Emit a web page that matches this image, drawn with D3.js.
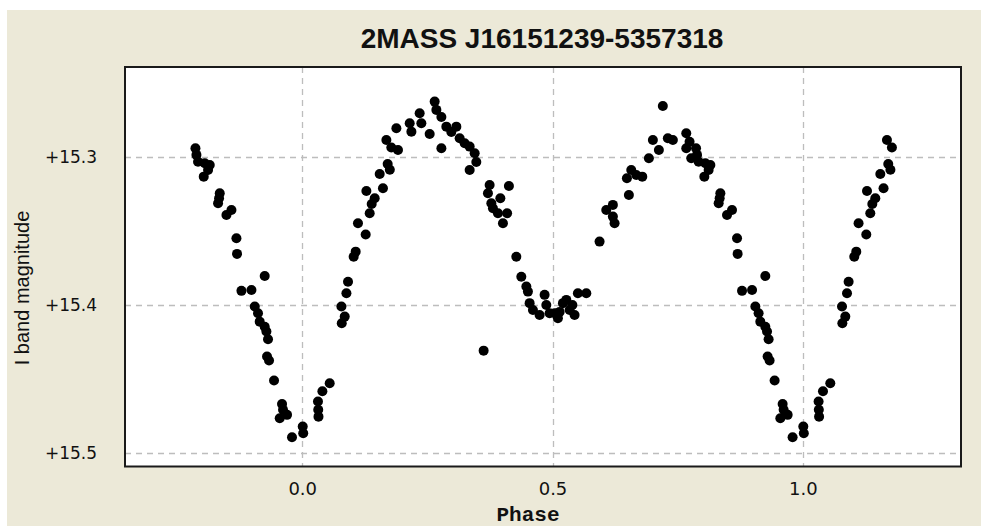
<!DOCTYPE html>
<html>
<head>
<meta charset="utf-8">
<script src="https://cdn.jsdelivr.net/npm/d3@7"></script>
<style>
  html, body { margin: 0; padding: 0; background: #ffffff; }
  svg { display: block; }
</style>
</head>
<body>
<div id="chart"></div>
<script>
// ---- data (phase-folded light curve, base phase in [0,1)) ----
const title = "2MASS J16151239-5357318";
const xLabel = "Phase";
const yLabel = "I band magnitude";
const xTicks = [0.0, 0.5, 1.0];
const xTickLabels = ["0.0", "0.5", "1.0"];
const yTicks = [15.3, 15.4, 15.5];
const yTickLabels = ["+15.3", "+15.4", "+15.5"];
const phaseWindow = [-0.215, 1.183];   // phases shown (data repeated by one cycle)

const phase = [
  0.001, 0.002, 0.0315, 0.032, 0.0325, 0.0403, 0.0549, 0.0783, 0.0849, 0.079,
  0.0883, 0.0915, 0.1028, 0.1068, 0.1114, 0.1268, 0.1282, 0.1348, 0.1388, 0.1448,
  0.1613, 0.1548, 0.1707, 0.175, 0.1681, 0.178, 0.1913, 0.1881,
  0.2147, 0.2181, 0.2346, 0.238, 0.2546, 0.2646, 0.268, 0.278, 0.278, 0.2879,
  0.2979, 0.3079, 0.3145, 0.3245, 0.3345, 0.3445, 0.3478, 0.3345, 0.3744, 0.371,
  0.4129, 0.3958, 0.381, 0.391, 0.4093, 0.401, 0.3778,
  0.4277, 0.4377, 0.4477, 0.4509, 0.4543, 0.4609, 0.4742, 0.4842, 0.4876, 0.4942,
  0.5042, 0.5108, 0.5208, 0.5276, 0.5342, 0.5441, 0.5507, 0.5675, 0.3624, 0.594,
  0.5142, 0.5397,
  0.6074, 0.6206, 0.6206, 0.624, 0.6486, 0.6526, 0.6573, 0.6673, 0.6793, 0.6925,
  0.7005, 0.7125, 0.7204, 0.7304, 0.7404, 0.7672, 0.7672, 0.7738, 0.7772,
  0.7867, 0.7887, 0.7919, 0.8053, 0.8153, 0.8119, 0.8033, 0.8353, 0.8339, 0.8319,
  0.8486, 0.8586, 0.8686, 0.8698, 0.9251, 0.8786, 0.8986, 0.9052, 0.9117, 0.9151,
  0.9251, 0.9285, 0.9317, 0.9297, 0.9337, 0.9437, 0.9597, 0.9617, 0.9551, 0.9697,
  0.9796
];
const magnitude = [
  15.4820, 15.4865, 15.4651, 15.4707, 15.4753, 15.4582, 15.4527, 15.4009, 15.4077, 15.4122,
  15.3919, 15.3841, 15.3672, 15.3638, 15.3446, 15.3522, 15.3228, 15.3378, 15.3316, 15.3277,
  15.3209, 15.3113, 15.3045, 15.3085, 15.2883, 15.2934, 15.2951, 15.2804,
  15.2770, 15.2827, 15.2703, 15.2770, 15.2843, 15.2624, 15.2680, 15.2728, 15.2939, 15.2793,
  15.2829, 15.2793, 15.2872, 15.2905, 15.2928, 15.2973, 15.3032, 15.3086, 15.3187, 15.3243,
  15.3194, 15.3277, 15.3345, 15.3378, 15.3378, 15.3446, 15.3311,
  15.3672, 15.3807, 15.3874, 15.3908, 15.3986, 15.4032, 15.4066, 15.3930, 15.3998, 15.4054,
  15.4054, 15.4088, 15.3986, 15.3964, 15.4032, 15.4066, 15.3919, 15.3919, 15.4307, 15.3570,
  15.4045, 15.3998,
  15.3356, 15.3322, 15.3401, 15.3446, 15.3142, 15.3255, 15.3086, 15.3120, 15.3131, 15.3007,
  15.2883, 15.2951, 15.2653, 15.2872, 15.2883, 15.2838, 15.2939, 15.2895, 15.3007,
  15.2939, 15.2984, 15.3030, 15.3041, 15.3052, 15.3086, 15.3131, 15.3243, 15.3277, 15.3311,
  15.3390, 15.3356, 15.3547, 15.3653, 15.3802, 15.3903, 15.3897, 15.4009, 15.4054, 15.4111,
  15.4145, 15.4178, 15.4230, 15.4347, 15.4374, 15.4509, 15.4667, 15.4707, 15.4764, 15.4741,
  15.4892
];

// ---- layout ----
const W = 981, H = 526;
const plot = { left: 125, top: 67, right: 961, bottom: 466.5 };

const svg = d3.select("#chart").append("svg")
  .attr("width", W).attr("height", H);

// window background (beige panel with white strip top/left)
svg.append("rect").attr("x", 0).attr("y", 0).attr("width", W).attr("height", H).attr("fill", "#ffffff");
svg.append("rect").attr("x", 7).attr("y", 10).attr("width", W - 7).attr("height", H - 10).attr("fill", "#ECE9D8");

const x = d3.scaleLinear().domain([-0.354, 1.316]).range([plot.left, plot.right]);
const y = d3.scaleLinear().domain([15.239, 15.509]).range([plot.top, plot.bottom]);

// plot area
svg.append("rect")
  .attr("x", plot.left).attr("y", plot.top)
  .attr("width", plot.right - plot.left).attr("height", plot.bottom - plot.top)
  .attr("fill", "#ffffff");

// grid
const grid = svg.append("g").attr("stroke", "#bdbdbd").attr("stroke-width", 1.3).attr("stroke-dasharray", "6,5");
grid.selectAll("line.v").data(xTicks).join("line")
  .attr("x1", d => Math.round(x(d)) + 0.5).attr("x2", d => Math.round(x(d)) + 0.5)
  .attr("y1", plot.top).attr("y2", plot.bottom);
grid.selectAll("line.h").data(yTicks).join("line")
  .attr("y1", d => Math.round(y(d)) + 0.5).attr("y2", d => Math.round(y(d)) + 0.5)
  .attr("x1", plot.left).attr("x2", plot.right);

// expand folded data across the displayed window
const pts = [];
phase.forEach((p, i) => {
  [-1, 0, 1].forEach(k => {
    const q = p + k;
    if (q >= phaseWindow[0] && q <= phaseWindow[1]) pts.push({ p: q, m: magnitude[i] });
  });
});

svg.append("g").selectAll("circle").data(pts).join("circle")
  .attr("cx", d => x(d.p)).attr("cy", d => y(d.m))
  .attr("r", 5).attr("fill", "#000000");

// frame
svg.append("rect")
  .attr("x", plot.left).attr("y", plot.top)
  .attr("width", plot.right - plot.left).attr("height", plot.bottom - plot.top)
  .attr("fill", "none").attr("stroke", "#1a1a1a").attr("stroke-width", 2);

// axes (labels only; tick lines hidden, like the original)
const xAxis = d3.axisBottom(x).tickValues(xTicks).tickFormat((d, i) => xTickLabels[i]).tickSize(0).tickPadding(16);
const gx = svg.append("g").attr("transform", `translate(0,${plot.bottom})`).call(xAxis);
gx.select(".domain").remove();
gx.selectAll("text").attr("font-family", "'DejaVu Sans', sans-serif").attr("font-size", 18).attr("fill", "#111");

const yAxis = d3.axisLeft(y).tickValues(yTicks).tickFormat((d, i) => yTickLabels[i]).tickSize(0).tickPadding(28);
const gy = svg.append("g").attr("transform", `translate(${plot.left},0)`).call(yAxis);
gy.select(".domain").remove();
gy.selectAll("text").attr("font-family", "'DejaVu Sans', sans-serif").attr("font-size", 17).attr("fill", "#111");

// title
svg.append("text")
  .attr("x", (plot.left + plot.right) / 2 - 1).attr("y", 48)
  .attr("text-anchor", "middle")
  .attr("font-family", "'Liberation Sans', Arial, sans-serif")
  .attr("font-weight", "bold").attr("font-size", 28).attr("fill", "#111")
  .text(title);

// x label
svg.append("text")
  .attr("x", (plot.left + plot.right) / 2 - 15).attr("y", 521)
  .attr("text-anchor", "middle")
  .attr("font-family", "'Liberation Mono', 'DejaVu Sans Mono', monospace")
  .attr("font-weight", "bold").attr("font-size", 21).attr("fill", "#111")
  .text(xLabel);

// y label
svg.append("text")
  .attr("transform", `translate(29,${288}) rotate(-90)`)
  .attr("text-anchor", "middle")
  .attr("font-family", "'Liberation Sans', Arial, sans-serif")
  .attr("font-size", 20).attr("fill", "#111")
  .text(yLabel);
</script>
</body>
</html>
